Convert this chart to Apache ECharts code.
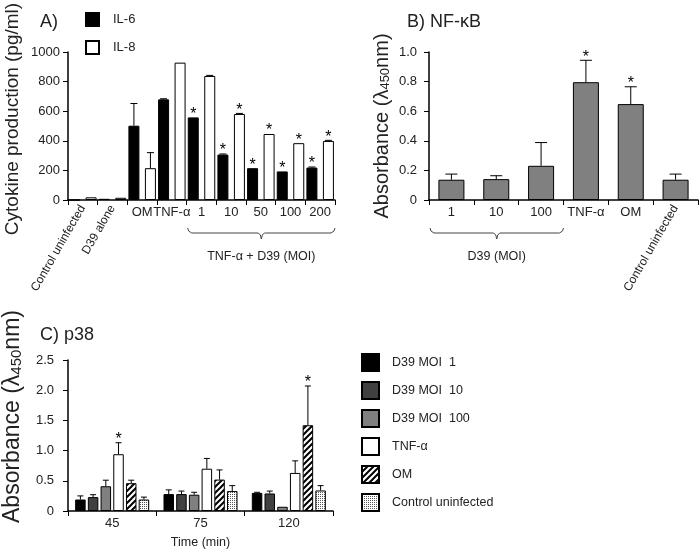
<!DOCTYPE html>
<html>
<head>
<meta charset="utf-8">
<script src="https://cdn.jsdelivr.net/npm/echarts@6/dist/echarts.min.js"></script>
<style>
  html, body { margin: 0; padding: 0; background: #fff; }
  #main { width: 700px; height: 550px; }
</style>
</head>
<body>
<div id="main"></div>
<script>
// A) cytokine production (pg/ml)
var catsA = ['Control uninfected', 'D39 alone', 'OM', 'TNF-α', '1', '10', '50', '100', '200'];
var il6 = [0, 8, 502, 680, 558, 307, 215, 193, 219];
var il6Err = [0, 0, 150, 4, 0, 4, 0, 0, 4];
var il6Sig = [0, 0, 0, 0, 1, 1, 1, 1, 1];
var il8 = [18, 15, 215, 928, 838, 581, 446, 384, 399];
var il8Err = [0, 0, 105, 0, 4, 4, 0, 0, 4];
var il8Sig = [0, 0, 0, 0, 0, 1, 1, 1, 1];
var yMaxA = 1000, yStepA = 200;

// B) NF-kB absorbance
var catsB = ['1', '10', '100', 'TNF-α', 'OM', 'Control uninfected'];
var nfkb = [0.137, 0.141, 0.231, 0.796, 0.648, 0.137];
var nfkbErr = [0.038, 0.023, 0.157, 0.148, 0.117, 0.038];
var nfkbSig = [0, 0, 0, 1, 1, 0];
var yMaxB = 1.0, yStepB = 0.2;

// C) p38 absorbance over time
var timesC = ['45', '75', '120'];
var namesC = ['D39 MOI  1', 'D39 MOI  10', 'D39 MOI  100', 'TNF-α', 'OM', 'Control uninfected'];
var moi1 = [0.19, 0.28, 0.30],  moi1Err = [0.06, 0.07, 0.01];
var moi10 = [0.23, 0.28, 0.29], moi10Err = [0.04, 0.05, 0.04];
var moi100 = [0.41, 0.27, 0.07], moi100Err = [0.10, 0.04, 0];
var tnf = [0.94, 0.70, 0.63],   tnfErr = [0.19, 0.17, 0.20];
var om = [0.46, 0.52, 1.42],    omErr = [0.05, 0.16, 0.65];
var ctrl = [0.19, 0.33, 0.34],  ctrlErr = [0.04, 0.09, 0.08];
var sigC = [[0,0,0],[0,0,0],[0,0,0],[1,0,0],[0,0,1],[0,0,0]];
var yMaxC = 2.5, yStepC = 0.5;

var FONT = '"Liberation Sans", Arial, sans-serif';
var TXT = '#222';

function hatch() {
  var c = document.createElement('canvas');
  c.width = 6; c.height = 6;
  var g = c.getContext('2d');
  g.fillStyle = '#fff'; g.fillRect(0, 0, 6, 6);
  g.strokeStyle = '#000'; g.lineWidth = 2;
  g.beginPath();
  g.moveTo(-1, 7); g.lineTo(7, -1);
  g.moveTo(-4, 4); g.lineTo(4, -4);
  g.moveTo(2, 10); g.lineTo(10, 2);
  g.stroke();
  return c;
}
function dots() {
  var c = document.createElement('canvas');
  c.width = 2; c.height = 2;
  var g = c.getContext('2d');
  g.fillStyle = '#fff'; g.fillRect(0, 0, 2, 2);
  g.fillStyle = '#555'; g.fillRect(0, 0, 1, 1);
  return c;
}

// error bar + star drawn at the bar's slot inside its category
function errBars(w, gap, n, idx, cap) {
  return function (params, api) {
    var cat = api.value(0), v = api.value(1), e = api.value(2), s = api.value(3);
    var base = api.coord([cat, v]);
    var total = n * w + (n - 1) * gap * w;
    var x = base[0] - total / 2 + w / 2 + idx * (w + gap * w);
    var top = api.coord([cat, v + e])[1];
    var kids = [];
    if (e > 0) {
      kids.push({ type: 'line', shape: { x1: x, y1: base[1], x2: x, y2: top }, style: { stroke: '#000', lineWidth: 1 } });
      kids.push({ type: 'line', shape: { x1: x - cap, y1: top, x2: x + cap, y2: top }, style: { stroke: '#000', lineWidth: 1 } });
    }
    if (s) {
      kids.push({ type: 'text', x: x, y: top - 3, style: { text: '*', fill: '#000', font: '16px ' + FONT, align: 'center', verticalAlign: 'middle' } });
    }
    return { type: 'group', children: kids };
  };
}
function rows(vals, errs, sigs) {
  return vals.map(function (v, i) { return [i, v, errs[i], sigs[i]]; });
}

function valueAxis(grid, max, step, name, nameGap, margin, nameStyle) {
  return {
    gridIndex: grid, type: 'value', min: 0, max: max, interval: step,
    name: name, nameLocation: 'middle', nameGap: nameGap, nameTextStyle: nameStyle,
    axisLine: { show: true, lineStyle: { color: '#000', width: 1.5 } },
    axisTick: { show: true, length: 5, lineStyle: { color: '#000' } },
    splitLine: { show: false },
    axisLabel: { color: TXT, fontSize: 13, margin: margin,
      formatter: function (v) { return v === 0 ? '0' : (step < 1 ? v.toFixed(1) : String(v)); } }
  };
}
function catAxis(grid, data, show, rotate, name) {
  var ax = {
    gridIndex: grid, type: 'category', data: data, position: 'bottom',
    axisLine: { show: !rotate, lineStyle: { color: '#000', width: 1.5 } },
    axisTick: { show: !rotate, length: 5, lineStyle: { color: '#000' } },
    axisLabel: { interval: 0, color: TXT, fontSize: rotate ? 12 : 13, margin: 6, rotate: rotate || 0,
      formatter: function (v, i) { return show(i) ? v : ''; } }
  };
  if (name) {
    ax.name = name; ax.nameLocation = 'middle'; ax.nameGap = 25;
    ax.nameTextStyle = { color: TXT, fontSize: 12.5 };
  }
  return ax;
}

function absName(big, small, lift) {
  return {
    padding: [0, 0, 0, lift],
    rich: {
      a: { fontSize: big, color: TXT, fontFamily: FONT },
      s: { fontSize: small, color: TXT, fontFamily: FONT, padding: [Math.round(big / 3), 0, 0, 0] }
    }
  };
}
var absLabel = '{a|Absorbance (λ}{s|450}{a|nm)}';

var chart = echarts.init(document.getElementById('main'));
var fillsC = ['#000', '#404040', '#808080', '#fff', { image: hatch(), repeat: 'repeat' }, { image: dots(), repeat: 'repeat' }];
var valsC = [moi1, moi10, moi100, tnf, om, ctrl];
var errsC = [moi1Err, moi10Err, moi100Err, tnfErr, omErr, ctrlErr];

var series = [
  { name: 'IL-6', type: 'bar', xAxisIndex: 0, yAxisIndex: 0, data: il6, barWidth: 11, barGap: '50%',
    itemStyle: { color: '#000', borderColor: '#000', borderWidth: 1 } },
  { name: 'IL-8', type: 'bar', xAxisIndex: 0, yAxisIndex: 0, data: il8, barWidth: 11, barGap: '50%',
    itemStyle: { color: '#fff', borderColor: '#000', borderWidth: 1 } },
  { type: 'custom', xAxisIndex: 0, yAxisIndex: 0, z: 5, silent: true, clip: false,
    renderItem: errBars(11, 0.5, 2, 0, 3.5), data: rows(il6, il6Err, il6Sig) },
  { type: 'custom', xAxisIndex: 0, yAxisIndex: 0, z: 5, silent: true, clip: false,
    renderItem: errBars(11, 0.5, 2, 1, 3.5), data: rows(il8, il8Err, il8Sig) },
  { name: 'NF-κB', type: 'bar', xAxisIndex: 2, yAxisIndex: 1, data: nfkb, barWidth: 26,
    itemStyle: { color: '#808080', borderColor: '#000', borderWidth: 1 } },
  { type: 'custom', xAxisIndex: 2, yAxisIndex: 1, z: 5, silent: true, clip: false,
    renderItem: errBars(26, 0, 1, 0, 6), data: rows(nfkb, nfkbErr, nfkbSig) }
];
namesC.forEach(function (n, k) {
  series.push({ name: n, type: 'bar', xAxisIndex: 4, yAxisIndex: 2, data: valsC[k], barWidth: 10.5, barGap: '21%',
    itemStyle: { color: fillsC[k], borderColor: '#000', borderWidth: 1 } });
  series.push({ type: 'custom', xAxisIndex: 4, yAxisIndex: 2, z: 5, silent: true, clip: false,
    renderItem: errBars(10.5, 0.21, 6, k, 3), data: rows(valsC[k], errsC[k], sigC[k]) });
});

chart.setOption({
  animation: false,
  textStyle: { fontFamily: FONT },
  title: [
    { text: 'A)', left: 35, top: 8, textStyle: { fontSize: 18, fontWeight: 'normal', color: TXT } },
    { text: 'B) NF-κB', left: 402, top: 8, textStyle: { fontSize: 18, fontWeight: 'normal', color: TXT } },
    { text: 'C) p38', left: 35, top: 321, textStyle: { fontSize: 18, fontWeight: 'normal', color: TXT } }
  ],
  legend: [
    { data: ['IL-6', 'IL-8'], orient: 'vertical', left: 85, top: 12, icon: 'rect', padding: 0,
      itemWidth: 13, itemHeight: 13, itemGap: 13, selectedMode: false,
      textStyle: { fontSize: 13, color: TXT, padding: [0, 0, 0, 9] } },
    { data: namesC, orient: 'vertical', left: 361, top: 353, icon: 'rect', padding: 0,
      itemWidth: 17, itemHeight: 17, itemGap: 9, selectedMode: false,
      textStyle: { fontSize: 12.5, color: TXT, padding: [0, 0, 0, 8] } }
  ],
  grid: [
    { left: 68, top: 52, width: 267, height: 148, outerBoundsMode: 'none' },
    { left: 429, top: 52, width: 269, height: 148, outerBoundsMode: 'none' },
    { left: 68, top: 360, width: 265, height: 151, outerBoundsMode: 'none' }
  ],
  xAxis: [
    catAxis(0, catsA, function (i) { return i >= 2; }),
    catAxis(0, catsA, function (i) { return i < 2; }, 60),
    catAxis(1, catsB, function (i) { return i !== 5; }),
    catAxis(1, catsB, function (i) { return i === 5; }, 60),
    catAxis(2, timesC, function () { return true; }, 0, 'Time (min)')
  ],
  yAxis: [
    valueAxis(0, yMaxA, yStepA, 'Cytokine production (pg/ml)', 46, 8, { fontSize: 19, color: TXT, padding: [0, 0, 0, 14] }),
    valueAxis(1, yMaxB, yStepB, absLabel, 37, 12, absName(20, 13, 0)),
    valueAxis(2, yMaxC, yStepC, absLabel, 44, 14, absName(23, 15, 38))
  ],
  series: series
});

// group brackets under the axes
function brace(x1, x2, y) {
  var m = (x1 + x2) / 2;
  return [[x1, y - 5], [x1 + 1, y - 2], [x1 + 4, y], [m - 3, y], [m - 1, y + 2], [m, y + 6],
          [m + 1, y + 2], [m + 3, y], [x2 - 4, y], [x2 - 1, y - 2], [x2, y - 5]];
}
function span(axisIdx, from, to) {
  var a = chart.convertToPixel({ xAxisIndex: axisIdx }, from);
  var b = chart.convertToPixel({ xAxisIndex: axisIdx }, to);
  var half = (b - a) / (to - from) / 2;
  return [a - half + 1, b + half];
}
var y0 = chart.convertToPixel({ yAxisIndex: 0 }, 0);
var sA = span(0, 4, 8), sB = span(2, 0, 2);
chart.setOption({
  graphic: [
    { type: 'polyline', shape: { points: brace(sA[0], sA[1], y0 + 33) }, style: { fill: null, stroke: '#444', lineWidth: 1 } },
    { type: 'text', x: (sA[0] + sA[1]) / 2, y: y0 + 57, style: { text: 'TNF-α + D39 (MOI)', fill: TXT, font: '12.5px ' + FONT, align: 'center', verticalAlign: 'middle' } },
    { type: 'polyline', shape: { points: brace(sB[0], sB[1], y0 + 33) }, style: { fill: null, stroke: '#444', lineWidth: 1 } },
    { type: 'text', x: (sB[0] + sB[1]) / 2, y: y0 + 57, style: { text: 'D39 (MOI)', fill: TXT, font: '12.5px ' + FONT, align: 'center', verticalAlign: 'middle' } }
  ]
});
</script>
</body>
</html>
